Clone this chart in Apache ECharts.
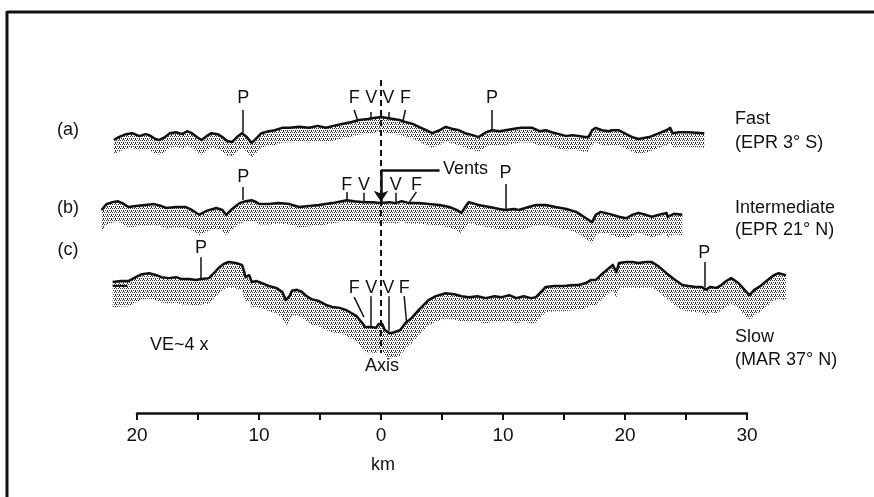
<!DOCTYPE html>
<html>
<head>
<meta charset="utf-8">
<script src="https://cdn.jsdelivr.net/npm/echarts@6/dist/echarts.min.js"></script>
<style>
html, body { margin: 0; padding: 0; background: #fff; }
#chart { width: 874px; height: 497px; }
</style>
</head>
<body>
<div id="chart"></div>
<script>
// ridge-crest profiles: [distance from axis (km), relief (m) relative to the profile's own level]
const profileA = [
  [-21.9, 0], [-21.5, 60], [-20.9, 120], [-20.4, 140], [-19.8, 80], [-19.3, 120], [-19.0, 100], [-18.5, 20],
  [-18.2, 0], [-17.7, 60], [-17.3, 140], [-16.8, 160], [-16.3, 120], [-15.9, 180], [-15.5, 140], [-15.1, 60],
  [-14.7, 0], [-14.3, 80], [-13.9, 140], [-13.4, 120], [-13.0, 60], [-12.6, -20], [-12.2, -40], [-11.8, 60],
  [-11.4, 140], [-11.0, 60], [-10.6, -60], [-10.2, 40], [-9.8, 140], [-9.2, 180], [-8.7, 200], [-8.1, 250],
  [-7.5, 250], [-6.7, 270], [-5.9, 250], [-5.2, 290], [-4.5, 250], [-3.9, 290], [-3.2, 330], [-2.4, 370],
  [-1.8, 410], [-1.1, 430], [-0.6, 450], [0, 470], [0.5, 450], [1.0, 430], [1.5, 410], [2.0, 370],
  [2.6, 330], [3.1, 270], [3.7, 200], [4.2, 140], [4.8, 200], [5.3, 270], [5.8, 230], [6.4, 200],
  [6.9, 140], [7.5, 100], [8.0, 60], [8.6, 160], [9.1, 200], [9.7, 180], [10.2, 200], [10.9, 230],
  [11.5, 250], [12.4, 250], [13.0, 180], [13.5, 200], [14.0, 160], [14.6, 120], [15.2, 80], [15.7, 100],
  [16.2, 80], [16.7, 60], [17.0, 60], [17.3, 200], [17.6, 250], [18.1, 200], [18.7, 180], [18.9, 200],
  [19.5, 200], [20.1, 120], [20.6, 60], [21.1, 20], [22.0, 60], [22.6, 120], [23.4, 200], [23.7, 250],
  [23.9, 140], [24.4, 160], [25.2, 160], [26.5, 140]
]

const profileB = [
  [-22.9, -60], [-22.5, 60], [-22.0, 100], [-21.6, 120], [-21.2, 80], [-20.7, 0], [-20.1, 20], [-19.3, 40],
  [-18.6, 60], [-18.0, 20], [-17.6, -20], [-16.8, 0], [-16.0, 0], [-15.5, -60], [-14.9, -160], [-14.3, -80],
  [-13.5, -20], [-13.0, -60], [-12.7, -160], [-12.2, -40], [-11.6, 80], [-11.1, 120], [-10.6, 140], [-10.2, 100],
  [-10.0, 60], [-9.2, 60], [-8.4, 80], [-7.5, 60], [-6.7, 0], [-5.9, 20], [-5.1, 40], [-4.0, 80],
  [-3.2, 120], [-2.8, 140], [-2.2, 120], [-1.4, 100], [-0.7, 100], [0, 80], [0.7, 100], [1.2, 80],
  [1.7, 120], [2.3, 80], [3.1, 80], [3.9, 60], [4.8, 40], [5.6, 0], [6.2, -60], [6.6, -120],
  [7.0, 40], [7.2, 100], [8.0, 40], [8.9, 0], [9.7, -40], [10.2, -60], [10.9, -40], [11.3, -60],
  [12.1, 0], [12.7, 40], [13.5, 40], [14.3, 0], [15.2, -40], [16.0, -100], [16.5, -180], [16.8, -230],
  [17.3, -310], [17.6, -160], [18.0, -100], [18.7, -140], [19.5, -200], [20.1, -230], [20.6, -160], [21.1, -120],
  [21.7, -160], [22.2, -200], [22.8, -160], [23.4, -120], [23.5, -200], [24.0, -140], [24.7, -160]
]

const profileC = [
  [-22.0, 0], [-21.3, 20], [-20.7, 20], [-20.1, 100], [-19.6, 160], [-19.0, 180], [-18.4, 140], [-18.0, 100],
  [-17.4, 80], [-16.8, 100], [-16.3, 60], [-15.7, 60], [-15.2, 40], [-14.7, 60], [-14.1, 80], [-13.7, 180],
  [-13.3, 290], [-12.9, 370], [-12.5, 410], [-11.9, 390], [-11.4, 350], [-11.2, 200], [-11.1, 100], [-10.8, 140],
  [-10.6, 0], [-10.2, 20], [-9.8, -20], [-9.2, -80], [-8.6, -120], [-8.1, -200], [-7.8, -370], [-7.5, -290],
  [-7.3, -180], [-6.9, -160], [-6.5, -200], [-6.1, -290], [-5.7, -350], [-5.1, -390], [-4.5, -470], [-4.0, -510],
  [-3.4, -530], [-2.9, -570], [-2.4, -640], [-2.0, -700], [-1.6, -820], [-1.3, -920], [-0.8, -920], [-0.4, -940],
  [-0.2, -860], [0.1, -860], [0.3, -980], [0.7, -1050], [1.1, -1030], [1.6, -980], [2.0, -840], [2.5, -740],
  [3.1, -570], [3.5, -470], [3.9, -370], [4.5, -290], [5.3, -230], [6.0, -250], [6.6, -290], [7.2, -310],
  [7.9, -290], [8.6, -330], [9.3, -290], [9.9, -310], [10.5, -270], [11.1, -330], [11.7, -290], [12.3, -330],
  [12.7, -310], [13.2, -180], [13.5, -100], [14.2, -80], [15.0, -80], [15.8, -60], [16.2, -60], [16.8, -20],
  [17.2, 40], [17.6, 40], [18.1, 160], [18.7, 290], [19.0, 350], [19.3, 200], [19.5, 390], [20.1, 410],
  [20.6, 410], [21.1, 390], [21.7, 410], [22.2, 410], [22.8, 310], [23.4, 180], [24.0, 60], [24.7, -60],
  [25.2, -80], [25.8, -100], [26.3, -100], [26.6, -160], [27.0, -100], [27.5, -120], [27.9, -60], [28.3, 20],
  [28.7, 80], [29.3, -20], [29.8, -160], [30.2, -270], [30.6, -160], [31.0, -100], [31.4, -20], [31.8, 60],
  [32.2, 140], [32.6, 180], [33.2, 140]
]
// short second trace at the start of (c)
const tailC = [[-22.0, -80], [-20.8, -80]]

// picks: [letter, km at top of tick, km at foot, m at top, m at foot, m of letter]
const picksA = [
  ['P', -11.3, -11.3, 615, 150, 860], ['F', -2.2, -1.9, 615, 390, 860], ['V', -0.8, -0.8, 575, 450, 860],
  ['V', 0.6, 0.6, 575, 455, 860], ['F', 2.0, 1.8, 615, 390, 860], ['P', 9.1, 9.1, 615, 205, 860]
]
const picksB = [
  ['P', -11.3, -11.3, 410, 145, 615], ['F', -2.8, -2.8, 310, 145, 450], ['V', -1.4, -1.4, 290, 110, 450],
  ['V', 1.2, 1.2, 290, 90, 450], ['F', 2.9, 2.3, 310, 90, 450], ['P', 10.2, 10.2, 470, -50, 700]
]
const picksC = [
  ['P', -14.75, -14.75, 510, 70, 700], ['F', -2.2, -1.4, -310, -720, -120], ['V', -0.8, -0.8, -290, -910, -120],
  ['V', 0.6, 0.6, -290, -1000, -120], ['F', 1.9, 2.1, -290, -840, -120], ['P', 26.5, 26.5, 410, -110, 595]
]

// vents marker on (b): bar from axis to km 4.8 at 760 m, arrow down to the crest
const ventsBar = [[0, 760], [4.8, 760]]
const ventsArrow = [[0, 760], [0, 110]]

const tickLabels = ['20', '10', '0', '10', '20', '30']

// layout
const KM_PX = 12.2
const M_PX = 1000 / (4 * KM_PX)   // VE ~4x
const OFF_A = 5594, OFF_B = 4221, OFF_C = 2684
const THICK_A = 300, THICK_B = 420, THICK_C = 520
const FONT = '"Liberation Sans", Arial, sans-serif'
const INK = '#111'

function stipple() {
  const c = document.createElement('canvas')
  c.width = 4
  c.height = 4
  const g = c.getContext('2d')
  g.fillStyle = '#fff'
  g.fillRect(0, 0, 4, 4)
  g.fillStyle = '#333'
  ;[[0, 0], [2, 0], [1, 2], [3, 2], [3, 3]].forEach(p => g.fillRect(p[0], p[1], 1, 1))
  return c
}
const dots = { image: stipple(), repeat: 'repeat' }

// stippled band under a profile, then the profile line on top
function profileSeries(pts, off, thick) {
  return [
    {
      type: 'custom', silent: true, z: 2,
      data: pts.map(p => [p[0], off + p[1]]),
      renderItem: (params, api) => {
        if (params.dataIndex !== 0) return null
        const top = pts.map(p => api.coord([p[0], off + p[1]]))
        const bottom = pts.map(p => api.coord([p[0], off + p[1] - thick])).reverse()
        return { type: 'polygon', shape: { points: top.concat(bottom) }, style: { fill: dots, stroke: null } }
      }
    },
    {
      type: 'line', symbol: 'none', silent: true, z: 3,
      lineStyle: { color: INK, width: 2.5, join: 'round' },
      data: pts.map(p => [p[0], off + p[1]])
    }
  ]
}

function pickSeries(picks, off) {
  return [
    {
      type: 'lines', coordinateSystem: 'cartesian2d', silent: true, z: 4,
      lineStyle: { color: INK, width: 1.5, opacity: 1 },
      data: picks.map(p => ({ coords: [[p[1], off + p[3]], [p[2], off + p[4]]] }))
    },
    {
      type: 'scatter', symbolSize: 1, silent: true, z: 5,
      itemStyle: { color: 'rgba(0,0,0,0)', opacity: 1 },
      label: { show: true, position: 'inside', formatter: '{b}', color: INK, opacity: 1, fontSize: 18, fontFamily: FONT },
      data: picks.map(p => ({ name: p[0], value: [p[1], off + p[5]] }))
    }
  ]
}

function txt(text, x, y, align) {
  return {
    type: 'text', x: x, y: y, silent: true,
    style: {
      text: text, fill: INK, font: '18px ' + FONT,
      align: align || 'left', verticalAlign: 'middle',
      textAlign: align || 'left', textVerticalAlign: 'middle'
    }
  }
}

const chart = echarts.init(document.getElementById('chart'))
chart.setOption({
  animation: false,
  backgroundColor: '#fff',
  grid: [
    { left: 137 - 4 * KM_PX, right: 874 - (137 + 54 * KM_PX), top: 13, bottom: 84 },
    { left: 137, right: 127, top: 400, bottom: 84 }
  ],
  xAxis: [
    { gridIndex: 0, type: 'value', min: -24, max: 34, show: false },
    {
      gridIndex: 1, type: 'value', min: -20, max: 30, interval: 5,
      axisLine: { lineStyle: { color: INK, width: 2.5 } },
      axisTick: { length: 7, lineStyle: { color: INK, width: 2 } },
      splitLine: { show: false },
      axisLabel: {
        margin: 13, color: INK, fontSize: 19, fontFamily: FONT,
        formatter: v => (v % 10 === 0 ? tickLabels[(v + 20) / 10] : '')
      }
    }
  ],
  yAxis: [
    { gridIndex: 0, type: 'value', min: 0, max: 400 * M_PX, show: false },
    { gridIndex: 1, type: 'value', min: 0, max: 1, show: false }
  ],
  series: [
    ...profileSeries(profileA, OFF_A, THICK_A),
    ...profileSeries(profileB, OFF_B, THICK_B),
    ...profileSeries(profileC, OFF_C, THICK_C),
    {
      type: 'line', symbol: 'none', silent: true, z: 3,
      lineStyle: { color: INK, width: 2 },
      data: tailC.map(p => [p[0], OFF_C + p[1]])
    },
    ...pickSeries(picksA, OFF_A),
    ...pickSeries(picksB, OFF_B),
    ...pickSeries(picksC, OFF_C),
    {
      // ridge axis
      type: 'lines', coordinateSystem: 'cartesian2d', silent: true, z: 6,
      lineStyle: { color: INK, width: 2, type: [6, 4], opacity: 1 },
      data: [{ coords: [[0, OFF_A + 1230], [0, OFF_C - 1455]] }]
    },
    {
      type: 'lines', coordinateSystem: 'cartesian2d', silent: true, z: 7,
      lineStyle: { color: INK, width: 2.5, opacity: 1 },
      data: [{ coords: ventsBar.map(p => [p[0], OFF_B + p[1]]) }]
    },
    {
      type: 'lines', coordinateSystem: 'cartesian2d', silent: true, z: 7,
      symbol: ['none', 'arrow'], symbolSize: 11,
      lineStyle: { color: INK, width: 2.5, opacity: 1 },
      data: [{ coords: ventsArrow.map(p => [p[0], OFF_B + p[1]]) }]
    }
  ],
  graphic: [
    { type: 'line', silent: true, shape: { x1: 7, y1: 12, x2: 874, y2: 12 }, style: { stroke: INK, lineWidth: 3 } },
    { type: 'line', silent: true, shape: { x1: 7, y1: 11, x2: 7, y2: 497 }, style: { stroke: INK, lineWidth: 3 } },
    txt('(a)', 68, 130, 'center'),
    txt('(b)', 68, 208, 'center'),
    txt('(c)', 68, 250, 'center'),
    txt('Fast', 735, 119),
    txt('(EPR 3° S)', 735, 143),
    txt('Intermediate', 735, 208),
    txt('(EPR 21° N)', 735, 230),
    txt('Slow', 735, 337),
    txt('(MAR 37° N)', 735, 360),
    txt('Vents', 443, 169),
    txt('VE~4 x', 150, 345),
    txt('Axis', 382, 366, 'center'),
    txt('km', 383, 465, 'center')
  ]
})
</script>
</body>
</html>
